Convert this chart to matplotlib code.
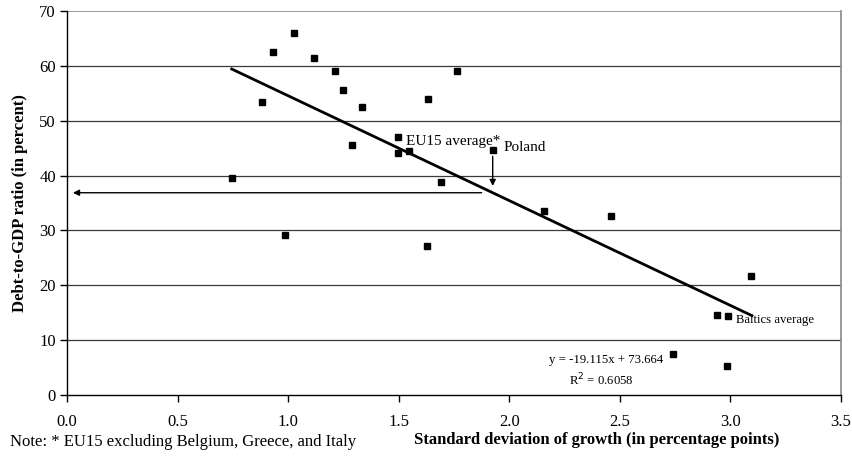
import matplotlib
matplotlib.use("Agg")
import matplotlib.pyplot as plt
import numpy as np

plt.rcParams['font.family'] = ['Liberation Serif', 'DejaVu Serif']

# Country observations: volatility of growth vs. debt ratio
growth_sd = [0.746, 0.882, 0.930, 0.987, 1.027, 1.117, 1.212, 1.247, 1.288, 1.336,
             1.496, 1.496, 1.547, 1.628, 1.633, 1.690, 1.765, 1.925, 2.159, 2.462,
             2.738, 2.941, 2.984, 2.990, 3.092]
debt_ratio = [39.6, 53.4, 62.6, 29.2, 66.0, 61.4, 59.1, 55.6, 45.6, 52.5,
              47.0, 44.2, 44.5, 27.2, 53.9, 38.9, 59.1, 44.6, 33.5, 32.7,
              7.5, 14.6, 5.2, 14.4, 21.7]

# Linear fit
slope = -19.115
intercept = 73.664
r_squared = 0.6058
fit_range = [0.745, 3.097]

poland_x = 1.925
poland_y = 44.6
eu15_x, eu15_y = 1.496, 47.0
baltics_x, baltics_y = 2.99, 14.4

x_ticks = [0.0, 0.5, 1.0, 1.5, 2.0, 2.5, 3.0, 3.5]
y_ticks = [0, 10, 20, 30, 40, 50, 60, 70]

fig = plt.figure(figsize=(8.53, 4.66), dpi=100)
ax = fig.add_axes([0.0785, 0.1524, 0.9075, 0.824])

ax.set_xlim(0, 3.5)
ax.set_ylim(0, 70)

for yv in y_ticks[1:-1]:
    ax.axhline(yv, color='#3a3a3a', lw=0.9, zorder=1)
ax.axhline(y_ticks[-1], color='#8a8a8a', lw=1.2, zorder=1)

ax.plot(growth_sd, debt_ratio, ls='none', marker='s', ms=3.8,
        color='black', zorder=3)

fx = np.array(fit_range)
ax.plot(fx, slope * fx + intercept, color='black', lw=2.0, zorder=2)

# Fitted debt level at Poland's volatility
fit_poland = slope * poland_x + intercept
ax.annotate('', xy=(poland_x, 38.1), xytext=(poland_x, poland_y - 1.1),
            arrowprops=dict(arrowstyle='-|>', color='black', lw=1.0,
                            mutation_scale=9, shrinkA=0, shrinkB=0), zorder=4)
ax.annotate('', xy=(0.027, fit_poland), xytext=(1.875, fit_poland),
            arrowprops=dict(arrowstyle='-|>', color='black', lw=1.0,
                            mutation_scale=9, shrinkA=0, shrinkB=0), zorder=4)

ax.text(eu15_x + 0.037, eu15_y - 0.7, 'EU15 average*', fontsize=11,
        va='center', ha='left')
ax.text(poland_x + 0.051, poland_y + 0.5, 'Poland', fontsize=11,
        va='center', ha='left')
ax.text(baltics_x + 0.036, baltics_y - 0.7, 'Baltics average', fontsize=9.2,
        va='center', ha='left')

ax.text(2.696, 6.3, 'y = -19.115x + 73.664', fontsize=9.2, ha='right',
        va='center')
ax.text(2.415, 2.7, 'R$^2$ = %.4f' % r_squared, fontsize=9.2, ha='center',
        va='center')

ax.set_xticks(x_ticks)
ax.set_xticklabels(['%.1f' % v for v in x_ticks])
ax.set_yticks(y_ticks)
ax.set_yticklabels([str(v) for v in y_ticks])
ax.tick_params(axis='both', direction='out', length=5, width=1.0,
               labelsize=12, colors='black')
ax.tick_params(axis='x', pad=9)
ax.tick_params(axis='y', pad=3)

for side in ['left', 'bottom']:
    ax.spines[side].set_color('black')
    ax.spines[side].set_linewidth(1.0)
ax.spines['top'].set_visible(False)
ax.spines['right'].set_color('#888888')
ax.spines['right'].set_linewidth(1.2)

ax.set_ylabel('Debt-to-GDP ratio (in percent)', fontsize=12,
              fontweight='bold', labelpad=8)
fig.text(0.70, 0.055, 'Standard deviation of growth (in percentage points)',
         fontsize=12, fontweight='bold', ha='center', va='center')
fig.text(0.012, 0.052, 'Note: * EU15 excluding Belgium, Greece, and Italy',
         fontsize=12, ha='left', va='center')

fig.savefig('out.png', dpi=100)
